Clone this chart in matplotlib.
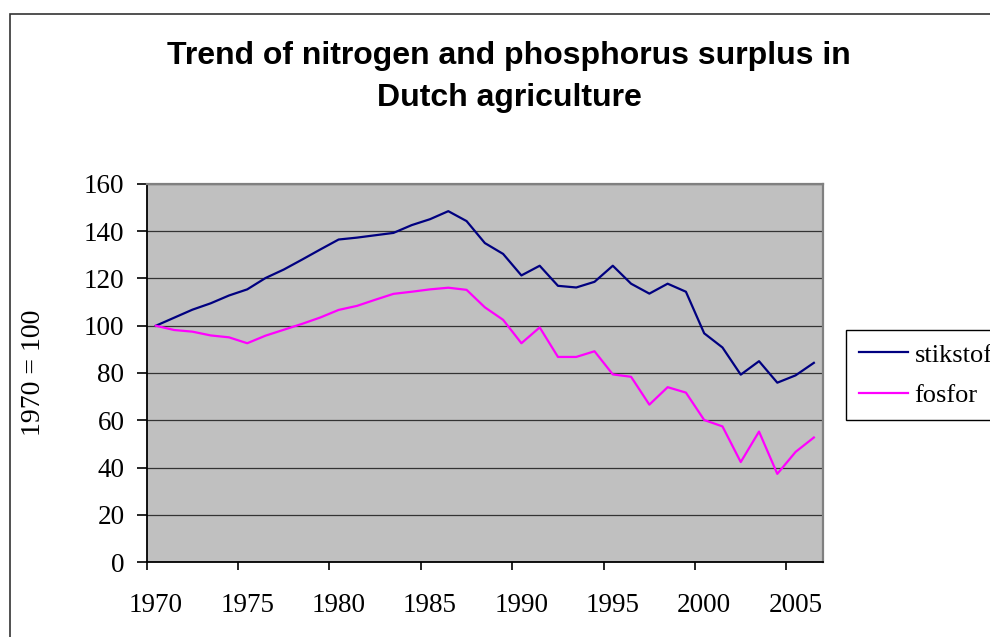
import matplotlib
matplotlib.use('Agg')
import matplotlib.pyplot as plt
from matplotlib.patches import Rectangle

# nitrogen / phosphorus surplus index, 1970 = 100
years = list(range(1970, 2007))
stikstof = [100, 103.4, 106.8, 109.5, 112.8, 115.4, 120.2, 123.8, 128, 132.3,
            136.5, 137.3, 138.3, 139.3, 142.6, 145.1, 148.5, 144.3, 135, 130.4,
            121.3, 125.4, 116.9, 116.2, 118.6, 125.4, 117.8, 113.6, 117.8, 114.4,
            96.8, 90.8, 79.3, 85, 75.9, 79, 84.3]
fosfor = [100, 98.2, 97.5, 95.9, 95.1, 92.6, 95.8, 98.3, 100.8, 103.5,
          106.7, 108.4, 111, 113.5, 114.4, 115.4, 116.1, 115.2, 107.8, 102.5,
          92.6, 99.3, 86.8, 86.8, 89.2, 79.4, 78.4, 66.6, 74, 71.7,
          60.1, 57.4, 42.3, 55.2, 37.3, 46.6, 52.7]
label_years = [1970, 1975, 1980, 1985, 1990, 1995, 2000, 2005]

W, H = 990, 637
fig = plt.figure(figsize=(W / 100, H / 100), dpi=100)

# outer chart frame (runs off the right and bottom edge)
fig.patches.append(Rectangle((10 / W, -0.2), 1.2, 1 - 14 / H + 0.2,
                             transform=fig.transFigure, fill=False,
                             edgecolor='#333333', lw=1.2))

ax = fig.add_axes([146.7 / W, 1 - 562 / H, (823 - 146.7) / W, (562 - 184) / H])
ax.set_facecolor('#C0C0C0')

idx = list(range(len(years)))
ax.plot(idx, stikstof, color='#000080', lw=1.6, label='stikstof')
ax.plot(idx, fosfor, color='#FF00FF', lw=1.6, label='fosfor')

ax.set_xlim(-0.5, len(years) - 0.5)
ax.set_ylim(0, 160)
ax.set_yticks(range(0, 161, 20))
ax.yaxis.grid(True, color='#333333', lw=0.9)
ax.set_axisbelow(True)

# category axis: tick marks on boundaries, labels on centres
ax.set_xticks([i - 0.5 for i in range(0, len(years), 5)])
ax.set_xticklabels([])
ax.set_xticks([years.index(y) for y in label_years], minor=True)
ax.set_xticklabels([str(y) for y in label_years], minor=True)
ax.tick_params(axis='x', which='major', direction='out', length=6, width=1.2, color='black')
ax.tick_params(axis='x', which='minor', length=0, pad=22)
ax.tick_params(axis='y', direction='out', length=7, width=1.2, pad=9)

for lab in ax.get_xticklabels(minor=True) + ax.get_yticklabels():
    lab.set_fontfamily('Liberation Serif')
    lab.set_fontsize(19.5)

ax.spines['left'].set_color('black')
ax.spines['bottom'].set_color('black')
ax.spines['left'].set_linewidth(1.3)
ax.spines['bottom'].set_linewidth(1.3)
ax.spines['top'].set_color('#808080')
ax.spines['right'].set_color('#808080')
ax.spines['top'].set_linewidth(1.6)
ax.spines['right'].set_linewidth(1.6)

fig.text(33 / W, 1 - 373 / H, '1970 = 100', rotation=90, ha='center', va='center',
         family='Liberation Serif', fontsize=20)

fig.text(509 / W, 1 - 77 / H, 'Trend of nitrogen and phosphorus surplus in\nDutch agriculture',
         ha='center', va='center', family='Liberation Sans', fontweight='bold',
         fontsize=23, linespacing=1.5)

leg = fig.legend(loc='upper left', bbox_to_anchor=(846 / W, 1 - 330 / H),
                 prop={'family': 'Liberation Serif', 'size': 19},
                 frameon=True, fancybox=False, edgecolor='black', framealpha=1,
                 borderaxespad=0, handlelength=1.85, handletextpad=0.25,
                 borderpad=0.5, labelspacing=0.65)
leg.get_frame().set_linewidth(1.0)

fig.savefig('out.png', dpi=100)
